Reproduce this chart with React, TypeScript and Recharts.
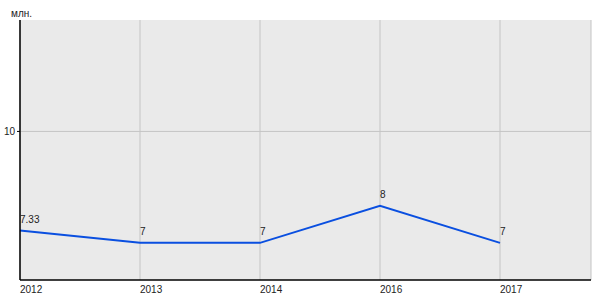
import React from "react";
import { LineChart, Line, XAxis, YAxis, CartesianGrid, LabelList } from "recharts";

const years = ["2012", "2013", "2014", "2016", "2017"];
const values = [7.33, 7, 7, 8, 7];
const yTicks = [10];

const data = years.map((year, i) => ({ year, value: values[i] }));

const FONT = "'Liberation Sans', Arial, sans-serif";

const ValueLabel = (props: any) => {
  const { x, y, value } = props;
  return (
    <text x={x} y={y - 8} textAnchor="start" fontSize={10} fontFamily={FONT} fill="#222">
      {value}
    </text>
  );
};

const YearTick = (props: any) => {
  const { x, y, payload } = props;
  return (
    <text x={x} y={y + 5} textAnchor="start" fontSize={10} fontFamily={FONT} fill="#222">
      {payload.value}
    </text>
  );
};

export default function App() {
  return (
    <div style={{ position: "absolute", left: 0, top: 0, width: 600, height: 300, background: "#fff" }}>
      <div style={{ position: "absolute", left: 11, top: 8, fontSize: 10, fontFamily: FONT, color: "#222" }}>
        млн.
      </div>
      <LineChart width={600} height={300} data={data} margin={{ top: 20, right: 9, left: 0, bottom: 0 }}>
        <CartesianGrid fill="#eaeaea" stroke="#c4c4c4" horizontalValues={yTicks} />
        <XAxis
          dataKey="year"
          padding={{ left: 0, right: 91 }}
          height={20}
          tickLine={false}
          axisLine={{ stroke: "#000", strokeWidth: 1.5 }}
          tick={<YearTick />}
          interval={0}
        />
        <YAxis
          domain={[6, 13]}
          ticks={yTicks}
          width={20}
          tickSize={3}
          tickLine={{ stroke: "#000" }}
          axisLine={{ stroke: "#000", strokeWidth: 1.5 }}
          tick={{ fontSize: 10, fontFamily: FONT, fill: "#222" }}
        />
        <Line
          type="linear"
          dataKey="value"
          stroke="#0a4fe0"
          strokeWidth={2}
          dot={false}
          activeDot={false}
          isAnimationActive={false}
        >
          <LabelList dataKey="value" content={<ValueLabel />} />
        </Line>
      </LineChart>
    </div>
  );
}
